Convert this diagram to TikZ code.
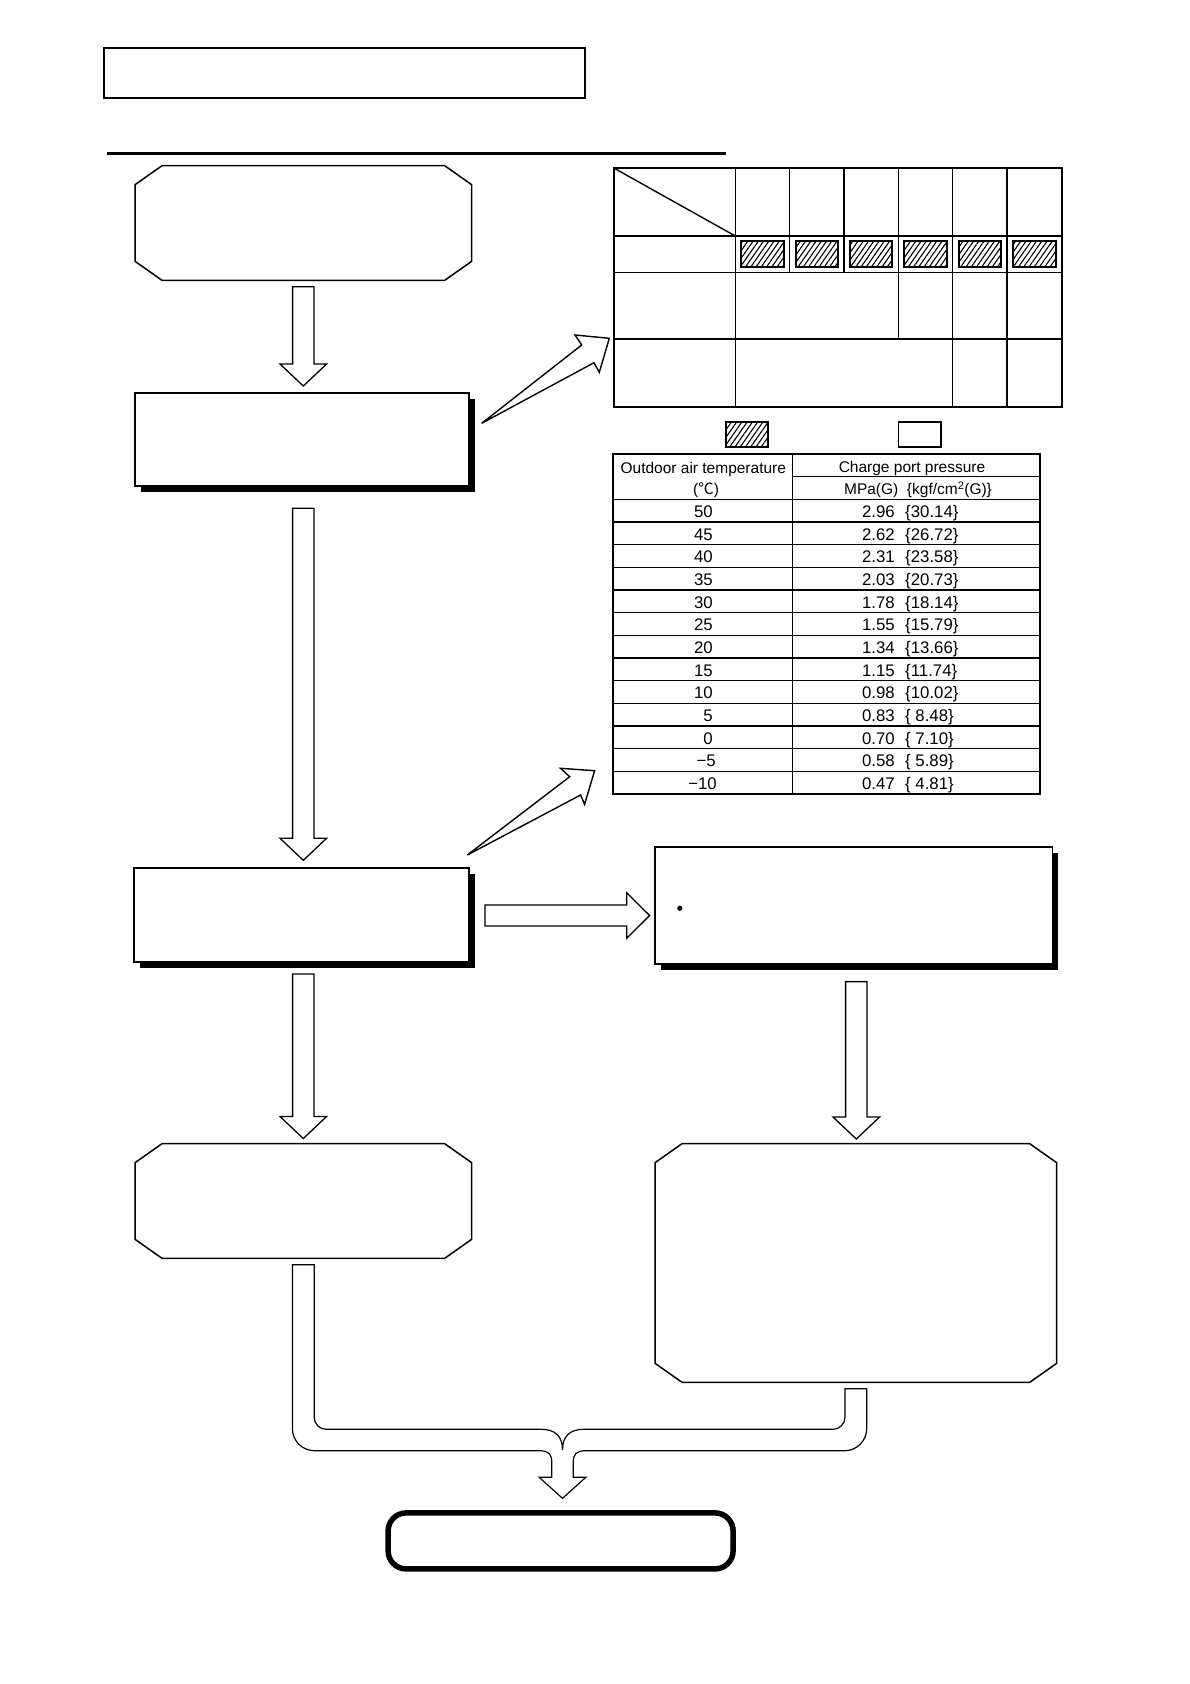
\documentclass[tikz,border=0pt]{standalone}
\usepackage{fontspec}
\setmainfont{Liberation Sans}
\newfontfamily\cjkf{Noto Sans CJK JP}
\usetikzlibrary{patterns.meta,calc}
\tikzset{
  boxline/.style={draw=black, line width=1.7pt, fill=white, inner sep=0pt, outer sep=0pt},
  octline/.style={draw=black, line width=1.5pt, fill=white, line join=miter},
  blockarrow/.style={draw=black, line width=1.3pt, fill=white, line join=miter},
  slimarrow/.style={draw=black, line width=1.4pt, fill=white, line join=miter},
  tline/.style={draw=black, line width=1.4pt},
  touter/.style={draw=black, line width=2pt},
  hatchbox/.style={draw=black, line width=1.8pt, pattern={Lines[angle=55,distance=4.3pt,line width=1.1pt]}},
  cell/.style={font=\fontsize{15.5}{18}\selectfont, inner sep=0pt},
  dcell/.style={font=\fontsize{16.8}{19}\selectfont, inner sep=0pt},
}
\newcommand\octbox[5]{%
  \draw[octline] ({#2+27},#3) -- ({#4-27},#3) -- (#4,{#3+19}) -- (#4,{#5-19}) -- ({#4-27},#5) -- ({#2+27},#5) -- (#2,{#5-19}) -- (#2,{#3+19}) -- cycle;
  \coordinate (#1) at ({(#2+#4)/2},{(#3+#5)/2});}
\newcommand\shbox[5]{%
  \fill[black] ({#2+6},{#3+6}) rectangle ({#4+6},{#5+6});
  \node[boxline, minimum width={#4-#2}, minimum height={#5-#3}, anchor=north west] (#1) at (#2,#3) {};}
\newcommand\vblock[3]{%
  \draw[blockarrow] ({#1-10.7},#2) -- ({#1+10.7},#2) -- ({#1+10.7},{#3-22}) -- ({#1+23.3},{#3-22}) -- (#1,#3) -- ({#1-23.3},{#3-22}) -- ({#1-10.7},{#3-22}) -- cycle;}
\newcommand\trow[4]{%
  \node[dcell, anchor=base east] at (#2, {499.3+22.67*(#1+0.5)+6.8}) {#3};
  \node[dcell, anchor=base east] at (895, {499.3+22.67*(#1+0.5)+6.8}) {#4};}
\newcommand\krow[2]{%
  \node[dcell, anchor=base west] at (905, {499.3+22.67*(#1+0.5)+6.8}) {#2};}
\begin{document}
\begin{tikzpicture}[x=1pt,y=-1pt]
\useasboundingbox (0,0) rectangle (1190,1684);
\fill[white] (0,0) rectangle (1190,1684);

% title box and rule
\node[draw=black, line width=1.3pt, minimum width=481, minimum height=50, inner sep=0, outer sep=0, anchor=north west] (title) at (104,48) {};
\draw[line width=2.5pt] (107,153.5) coordinate (ruleL) -- (726,153.5) coordinate (ruleR);

% left column
\octbox{b1}{135}{165.7}{471.7}{280.3}
\vblock{303.3}{286.7}{386}
\shbox{b2}{135}{392.7}{469.3}{486}
\vblock{303.3}{508.3}{860.3}
\shbox{b3}{134.3}{868.3}{469.3}{961.7}
\vblock{303.3}{974}{1138.5}
\octbox{b5}{135}{1143.7}{471.7}{1258.3}

% right column
\shbox{b4}{654.9}{847.3}{1052.4}{964}
\fill[black] (679.8,908.3) circle[radius=2.6];
\vblock{856.3}{981.6}{1139}
\octbox{b6}{655}{1143.7}{1056.7}{1382.3}

% horizontal block arrow b3 -> b4
\draw[blockarrow] (485,905) -- (626.7,905) -- (626.7,892.7) -- (649.6,915.5) -- (626.7,938.3) -- (626.7,926) -- (485,926) -- cycle;

% slim diagonal arrows
\draw[slimarrow] (481.7,423.3) -- (581.7,345) -- (575,335) -- (609.3,338.3) -- (599.3,372.3) -- (594,362.7) -- cycle;
\draw[slimarrow] (467.3,855) -- (569.7,776.7) -- (560.5,768.3) -- (594.6,770.7) -- (584.6,804.3) -- (580.6,795) -- cycle;

% merge connector
\draw[blockarrow, line width=1.2pt] (292.4,1264.7) -- (314.2,1264.7) -- (314.2,1417.3)
  .. controls (314.2,1423.9) and (319.6,1429.3) .. (326.2,1429.3) -- (541.4,1429.3)
  .. controls (555,1429.3) and (562.5,1436) .. (562.5,1450)
  .. controls (562.5,1436) and (570,1429.3) .. (583.6,1429.3) -- (833,1429.3)
  .. controls (839.6,1429.3) and (845,1423.9) .. (845,1417.3) -- (845,1388.7) -- (866.7,1388.7) -- (866.7,1428.7)
  .. controls (866.7,1440.8) and (856.8,1450.7) .. (844.7,1450.7) -- (586,1450.7)
  .. controls (576,1450.7) and (573.2,1454) .. (573.2,1463) -- (573.2,1477.3) -- (585.8,1477.3) -- (562.5,1498.3)
  -- (539.2,1477.3) -- (551.8,1477.3) -- (551.8,1463)
  .. controls (551.8,1454) and (549,1450.7) .. (539,1450.7) -- (314.4,1450.7)
  .. controls (302.3,1450.7) and (292.4,1440.8) .. (292.4,1428.7) -- cycle;

% terminal
\node[draw=black, line width=5.5pt, rounded corners=18, minimum width=345, minimum height=56, inner sep=0, fill=white] (term) at (560.6,1540.9) {};

% table 1
\foreach \a/\b in {735.3/789.7, 789.7/844, 844/898.3, 898.3/952.7, 952.7/1007, 1007/1061.7}
  \draw[hatchbox] ({\a+6},241.3) rectangle ({\b-6},267.3);
\draw[tline] (614.3,236) -- (1061.7,236);
\draw[tline] (614.3,272.7) -- (1061.7,272.7);
\draw[tline] (614.3,339) -- (1061.7,339);
\draw[tline] (735.3,168.3) -- (735.3,406.7);
\draw[tline] (789.7,168.3) -- (789.7,272.7);
\draw[tline] (844,168.3) -- (844,272.7);
\draw[tline] (898.3,168.3) -- (898.3,339);
\draw[tline] (952.7,168.3) -- (952.7,406.7);
\draw[tline] (1007,168.3) -- (1007,406.7);
\draw[tline] (614.3,168.3) -- (735.3,236);
\draw[touter] (614.3,168.3) rectangle (1061.7,406.7);
% legend
\draw[hatchbox] (726,421.7) rectangle (768.3,447);
\draw[draw=black, line width=1.6pt] (898.3,421.7) rectangle (940.7,447);

% table 2
\foreach \k in {0,...,12} \draw[tline] (612.7,{499.3+22.67*\k}) -- (1040,{499.3+22.67*\k});
\draw[tline] (792.3,476.7) -- (1040,476.7);
\draw[tline] (792.3,454) -- (792.3,794);
\draw[touter] (612.7,454) rectangle (1040,794);
\node[cell, anchor=base] at (703.3,473) {Outdoor air temperature};
\node[cell, anchor=base] at (706,494.5) {({\cjkf ℃})};
\node[cell, anchor=base] at (912,472.5) {Charge port pressure};
\node[cell, anchor=base] at (918,494.5) {MPa(G)\ \ \{kgf/cm\textsuperscript{2}(G)\}};
\trow{0}{713}{50}{2.96}    \krow{0}{\{30.14\}}
\trow{1}{713}{45}{2.62}    \krow{1}{\{26.72\}}
\trow{2}{713}{40}{2.31}    \krow{2}{\{23.58\}}
\trow{3}{713}{35}{2.03}    \krow{3}{\{20.73\}}
\trow{4}{713}{30}{1.78}    \krow{4}{\{18.14\}}
\trow{5}{713}{25}{1.55}    \krow{5}{\{15.79\}}
\trow{6}{713}{20}{1.34}    \krow{6}{\{13.66\}}
\trow{7}{713}{15}{1.15}    \krow{7}{\{11.74\}}
\trow{8}{713}{10}{0.98}    \krow{8}{\{10.02\}}
\trow{9}{713}{5}{0.83}     \krow{9}{\{\ 8.48\}}
\trow{10}{713}{0}{0.70}    \krow{10}{\{\ 7.10\}}
\trow{11}{716}{−5}{0.58}   \krow{11}{\{\ 5.89\}}
\trow{12}{717}{−10}{0.47}  \krow{12}{\{\ 4.81\}}
\end{tikzpicture}
\end{document}
